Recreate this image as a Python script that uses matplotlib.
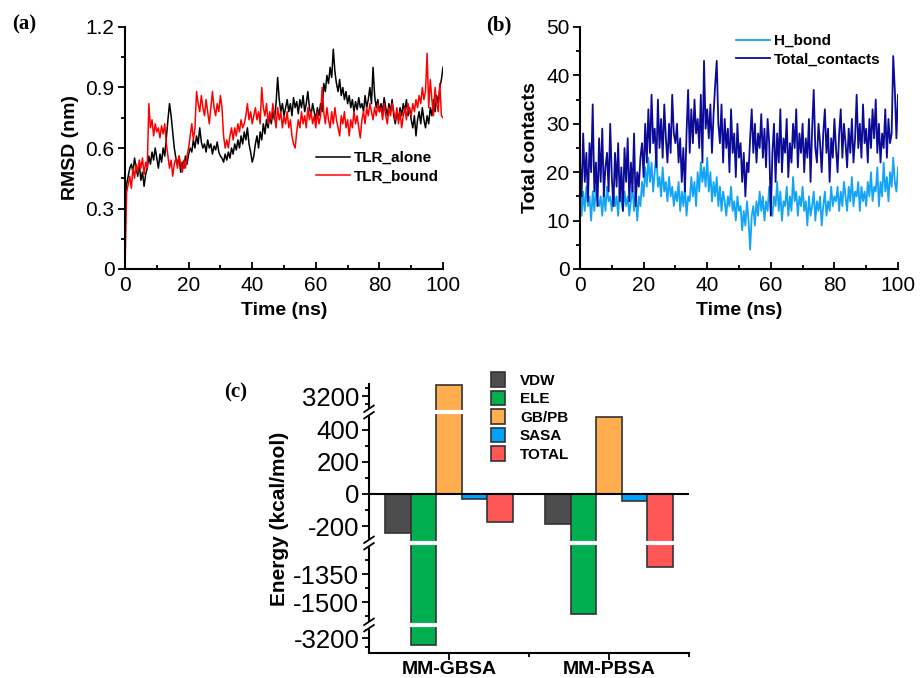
import numpy as np
import matplotlib
matplotlib.use('Agg')
import matplotlib.pyplot as plt

plt.rcParams['font.family'] = ['Liberation Sans', 'DejaVu Sans']

# -------------------------------------------------------
# (a) RMSD (nm), read every 0.5 ns from 0 to 100 ns
# -------------------------------------------------------
rmsd_alone = [
    0.27, 0.42, 0.46, 0.50, 0.52, 0.48, 0.55, 0.50, 0.46, 0.52, 0.44, 0.48, 0.41, 0.47, 0.50, 0.56, 0.52, 0.58, 0.54, 0.60, 0.55,
    0.50, 0.57, 0.53, 0.60, 0.56, 0.65, 0.74, 0.82, 0.76, 0.68, 0.60, 0.55, 0.52, 0.56, 0.48, 0.53, 0.50, 0.56, 0.52, 0.57,
    0.60, 0.58, 0.64, 0.60, 0.66, 0.62, 0.70, 0.63, 0.60, 0.62, 0.58, 0.64, 0.60, 0.62, 0.57, 0.61, 0.59, 0.63, 0.58, 0.56,
    0.55, 0.53, 0.57, 0.54, 0.58, 0.55, 0.60, 0.57, 0.62, 0.59, 0.64, 0.60, 0.66, 0.62, 0.68, 0.64, 0.70, 0.62, 0.58, 0.53,
    0.56, 0.62, 0.66, 0.60, 0.68, 0.64, 0.72, 0.67, 0.74, 0.70, 0.76, 0.72, 0.78, 0.74, 0.82, 0.95, 0.84, 0.78, 0.82, 0.76,
    0.80, 0.84, 0.78, 0.82, 0.76, 0.85, 0.80, 0.83, 0.77, 0.84, 0.80, 0.86, 0.78, 0.82, 0.88, 0.80, 0.76, 0.82, 0.78, 0.74,
    0.80, 0.76, 0.82, 0.78, 0.92, 0.88, 0.96, 0.92, 1.00, 0.95, 1.09, 0.98, 0.92, 0.88, 0.94, 0.86, 0.90, 0.84, 0.88, 0.82,
    0.86, 0.80, 0.84, 0.78, 0.83, 0.79, 0.85, 0.80, 0.82, 0.78, 0.86, 0.80, 0.84, 0.90, 0.82, 1.00, 0.86, 0.80, 0.84, 0.78,
    0.82, 0.78, 0.85, 0.80, 0.76, 0.82, 0.78, 0.84, 0.76, 0.72, 0.78, 0.74, 0.80, 0.76, 0.82, 0.78, 0.84, 0.76, 0.80, 0.74,
    0.70, 0.76, 0.66, 0.74, 0.78, 0.72, 0.80, 0.74, 0.70, 0.76, 0.72, 0.80, 0.76, 0.84, 0.78, 0.86, 0.82, 0.90, 0.94, 1.00,
]
rmsd_bound = [
    0.00, 0.38, 0.42, 0.46, 0.40, 0.50, 0.45, 0.52, 0.48, 0.54, 0.50, 0.55, 0.47, 0.53, 0.50, 0.82, 0.70, 0.74, 0.66, 0.72, 0.68,
    0.70, 0.65, 0.71, 0.67, 0.72, 0.62, 0.56, 0.50, 0.54, 0.46, 0.52, 0.55, 0.50, 0.56, 0.52, 0.48, 0.54, 0.50, 0.56, 0.60,
    0.66, 0.72, 0.64, 0.70, 0.88, 0.82, 0.78, 0.86, 0.80, 0.76, 0.84, 0.78, 0.72, 0.80, 0.88, 0.80, 0.76, 0.82, 0.78, 0.86,
    0.80, 0.66, 0.60, 0.64, 0.60, 0.66, 0.70, 0.64, 0.70, 0.66, 0.72, 0.68, 0.74, 0.70, 0.72, 0.76, 0.82, 0.74, 0.78, 0.72,
    0.76, 0.80, 0.74, 0.78, 0.72, 0.90, 0.80, 0.76, 0.82, 0.72, 0.78, 0.74, 0.82, 0.76, 0.70, 0.80, 0.74, 0.78, 0.70, 0.76,
    0.72, 0.78, 0.70, 0.74, 0.66, 0.62, 0.60, 0.68, 0.74, 0.70, 0.78, 0.72, 0.76, 0.70, 0.80, 0.74, 0.78, 0.72, 0.76, 0.70,
    0.78, 0.72, 0.76, 0.90, 0.78, 0.72, 0.80, 0.74, 0.70, 0.78, 0.72, 0.80, 0.74, 0.70, 0.66, 0.76, 0.72, 0.78, 0.70, 0.74,
    0.66, 0.74, 0.70, 0.78, 0.72, 0.76, 0.70, 0.65, 0.74, 0.78, 0.72, 0.80, 0.76, 0.82, 0.78, 0.74, 0.80, 0.76, 0.82, 0.78,
    0.80, 0.74, 0.82, 0.76, 0.72, 0.80, 0.76, 0.82, 0.78, 0.74, 0.80, 0.72, 0.78, 0.70, 0.76, 0.80, 0.74, 0.82, 0.78, 0.76,
    0.82, 0.78, 0.84, 0.80, 0.86, 0.82, 0.90, 0.84, 0.88, 1.07, 0.80, 0.94, 0.84, 0.76, 0.90, 0.82, 0.78, 0.92, 0.76, 0.75,
]

# -------------------------------------------------------
# (b) H-bonds and total contacts, read every 0.5 ns
# -------------------------------------------------------
total_contacts = [
    22, 15, 28, 18, 24, 14, 26, 20, 34, 16, 22, 13, 27, 18, 29, 15, 21, 24, 16, 30, 19,
    13, 24, 17, 26, 14, 21, 12, 25, 18, 27, 14, 22, 16, 28, 13, 20, 17, 23, 26, 19,
    30, 22, 33, 24, 36, 26, 29, 21, 35, 25, 31, 23, 34, 27, 22, 30, 24, 36, 28, 26,
    30, 22, 27, 18, 25, 16, 28, 37, 24, 33, 26, 35, 28, 31, 25, 36, 22, 43, 29, 33,
    27, 34, 24, 32, 38, 43, 30, 26, 34, 22, 31, 25, 29, 20, 33, 24, 28, 19, 30, 23,
    26, 18, 24, 15, 22, 20, 27, 33, 24, 30, 22, 28, 25, 32, 23, 29, 21, 31, 26, 11,
    24, 30, 18, 28, 22, 33, 20, 27, 24, 31, 19, 26, 22, 30, 25, 33, 21, 28, 24, 30,
    20, 27, 23, 31, 18, 29, 37, 25, 22, 30, 26, 20, 28, 33, 24, 29, 18, 27, 23, 31,
    25, 20, 28, 33, 23, 30, 26, 21, 29, 24, 31, 22, 27, 36, 25, 30, 23, 34, 26, 29,
    22, 31, 25, 33, 27, 35, 24, 30, 22, 28, 25, 33, 23, 31, 26, 28, 44, 37, 27, 36,
]
hbond = [
    19, 11, 16, 12, 17, 13, 15, 10, 16, 12, 17, 14, 13, 15, 11, 16, 12, 17, 14, 15, 12,
    16, 13, 15, 11, 17, 14, 12, 16, 13, 15, 11, 14, 17, 12, 16, 10, 15, 13, 18, 15,
    21, 17, 23, 18, 22, 16, 20, 24, 17, 19, 15, 21, 16, 18, 14, 19, 15, 17, 13, 16,
    14, 18, 12, 16, 13, 17, 11, 15, 14, 19, 15, 18, 13, 20, 16, 22, 18, 21, 17, 23,
    16, 20, 14, 18, 15, 19, 13, 17, 12, 16, 14, 11, 15, 13, 17, 12, 14, 10, 15, 12,
    13, 8, 12, 9, 14, 10, 4, 11, 13, 9, 14, 11, 16, 12, 15, 10, 14, 12, 17, 12,
    11, 15, 13, 18, 12, 16, 10, 14, 13, 17, 11, 15, 12, 19, 14, 16, 11, 15, 13, 17,
    12, 14, 9, 15, 11, 13, 16, 10, 14, 12, 15, 9, 13, 16, 11, 14, 12, 17, 13, 15,
    14, 17, 12, 16, 13, 18, 15, 12, 17, 14, 19, 13, 16, 15, 18, 12, 17, 14, 16, 13,
    18, 15, 20, 14, 17, 16, 21, 13, 18, 15, 22, 16, 19, 14, 20, 17, 23, 18, 16, 21,
]

# -------------------------------------------------------
# (c) binding free energy terms (kcal/mol)
# -------------------------------------------------------
methods = ['MM-GBSA', 'MM-PBSA']
terms = ['VDW', 'ELE', 'GB/PB', 'SASA', 'TOTAL']
vdw = [-242, -190]
ele = [-3271, -1564]
gbpb = [3337, 483]
sasa = [-29, -44]
total = [-173, -1311]
term_colors = ['#4d4d4d', '#00b050', '#ffad4f', '#00a2ff', '#ff5656']

W, H = 921, 678
fig = plt.figure(figsize=(W / 100, H / 100), dpi=100)


def px_axes(l, t, r, b):
    return fig.add_axes([l / W, 1 - b / H, (r - l) / W, (b - t) / H])


def style_ts(ax):
    for s in ['top', 'right']:
        ax.spines[s].set_visible(False)
    for s in ['left', 'bottom']:
        ax.spines[s].set_linewidth(1.5)
    ax.set_xlim(0, 100)
    ax.set_xticks(range(0, 101, 20))
    ax.set_xticks(range(10, 100, 20), minor=True)
    ax.tick_params(axis='x', which='both', direction='in', labelsize=15, pad=5)
    ax.tick_params(axis='y', which='both', direction='out', labelsize=15, pad=2.5)
    ax.tick_params(which='major', length=5, width=1.3)
    ax.tick_params(which='minor', length=3, width=1.3)
    ax.set_xlabel('Time (ns)', fontsize=14, fontweight='bold')
    ax.xaxis.set_label_coords(0.5, -0.135)


legend_font = {'weight': 'bold', 'size': 11}

# ---- (a) ----
axa = px_axes(125, 27, 443, 269)
axa.plot(np.linspace(0, 100, len(rmsd_alone)), rmsd_alone, color='black', lw=1.1, label='TLR_alone')
axa.plot(np.linspace(0, 100, len(rmsd_bound)), rmsd_bound, color='#ff0000', lw=1.1, label='TLR_bound')
style_ts(axa)
axa.set_ylim(0, 1.2)
axa.set_yticks([0, 0.3, 0.6, 0.9, 1.2], ['0', '0.3', '0.6', '0.9', '1.2'])
axa.set_yticks([0.15, 0.45, 0.75, 1.05], minor=True)
axa.set_ylabel('RMSD (nm)', fontsize=14, fontweight='bold')
axa.yaxis.set_label_coords(-0.145, 0.5)
axa.legend(loc='upper left', bbox_to_anchor=(316 / W, 1 - 151 / H), bbox_transform=fig.transFigure,
           frameon=False, prop=legend_font, handlelength=2.2, handletextpad=0.3,
           labelspacing=0.3, borderpad=0, borderaxespad=0)

# ---- (b) ----
axb = px_axes(580, 27, 898, 269)
axb.plot(np.linspace(0, 100, len(hbond)), hbond, color='#12a4f5', lw=1.3, label='H_bond')
axb.plot(np.linspace(0, 100, len(total_contacts)), total_contacts, color='#0b0b98', lw=1.3, label='Total_contacts')
style_ts(axb)
axb.set_ylim(0, 50)
axb.set_yticks(range(0, 51, 10))
axb.set_yticks(range(5, 50, 10), minor=True)
axb.set_ylabel('Total contacts', fontsize=14, fontweight='bold')
axb.yaxis.set_label_coords(-0.13, 0.5)
axb.legend(loc='upper left', bbox_to_anchor=(736 / W, 1 - 34 / H), bbox_transform=fig.transFigure,
           frameon=False, prop=legend_font, handlelength=2.2, handletextpad=0.3,
           labelspacing=0.3, borderpad=0, borderaxespad=0)

# ---- (c) broken y axis through a piecewise linear scale ----
axc = px_axes(369, 384, 689, 653)
seg_vals = [-10000, -3360, -3060, -1623, -1184, -306, 512, 3000, 3350, 10000]
seg_pos = [-619.7, 0, 28, 28, 110, 110, 241, 241, 269, 801]


def fwd(v):
    return np.interp(v, seg_vals, seg_pos)


def inv(p):
    return np.interp(p, seg_pos, seg_vals)


axc.set_yscale('function', functions=(fwd, inv))
x = np.arange(len(methods))
width = 0.16
for i, (name, vals, c) in enumerate(zip(terms, [vdw, ele, gbpb, sasa, total], term_colors)):
    axc.bar(x + (i - 2) * width, vals, width, color=c, edgecolor='#333333', linewidth=1.2,
            label=name, zorder=2)
axc.set_ylim(-3360, 3350)
axc.set_xlim(-0.5, 1.5)

# white gaps through bars at the breaks
for v in [-3060, -306, 512]:
    axc.axhline(v, xmin=0.012, xmax=1, color='white', lw=3, zorder=3)
axc.axhline(0, color='black', lw=1.5, zorder=4)

for s in ['top', 'right']:
    axc.spines[s].set_visible(False)
for s in ['left', 'bottom']:
    axc.spines[s].set_linewidth(1.5)

axc.set_yticks([-3200, -1500, -1350, -200, 0, 200, 400, 3200],
               ['-3200', '-1500', '-1350', '-200', '0', '200', '400', '3200'])
axc.set_yticks([-3300, -3100, -1575, -1425, -1275, -300, -100, 100, 300, 500, 3100, 3300], minor=True)
axc.set_xticks(x, methods)
axc.set_xticks([0.5, 1.5], minor=True)
axc.tick_params(which='both', direction='out', width=1.3)
axc.tick_params(which='major', length=5)
axc.tick_params(which='minor', length=3)
axc.tick_params(axis='y', labelsize=18.5, pad=2)
axc.tick_params(axis='x', labelsize=14, pad=0.5)
for lab in axc.get_xticklabels():
    lab.set_fontweight('bold')
axc.set_ylabel('Energy (kcal/mol)', fontsize=15, fontweight='bold')
axc.yaxis.set_label_coords(-0.25, 0.5)

# break marks on the y axis
for yp in [28, 110, 241]:
    yf = yp / 269
    axc.fill_between([-0.02, 0.02], yf - 0.012, yf + 0.012, color='white',
                     transform=axc.transAxes, clip_on=False, zorder=5)
    for dy in [-0.012, 0.012]:
        axc.plot([-0.015, 0.015], [yf + dy - 0.012, yf + dy + 0.012], color='black', lw=1.3,
                 transform=axc.transAxes, clip_on=False, zorder=6)

axc.legend(loc='upper left', bbox_to_anchor=(491 / W, 1 - 372 / H), bbox_transform=fig.transFigure,
           frameon=False, prop=legend_font, handlelength=0.9, handleheight=1.1,
           handletextpad=1.0, labelspacing=0.2, borderpad=0, borderaxespad=0)

# panel letters
for px, py, txt in [(12, 24, '(a)'), (486, 25, '(b)'), (224, 392, '(c)')]:
    fig.text(px / W, 1 - py / H, txt, family='Liberation Serif', fontweight='bold',
             fontsize=15, va='center', ha='left')

fig.savefig('out.png', dpi=100)
